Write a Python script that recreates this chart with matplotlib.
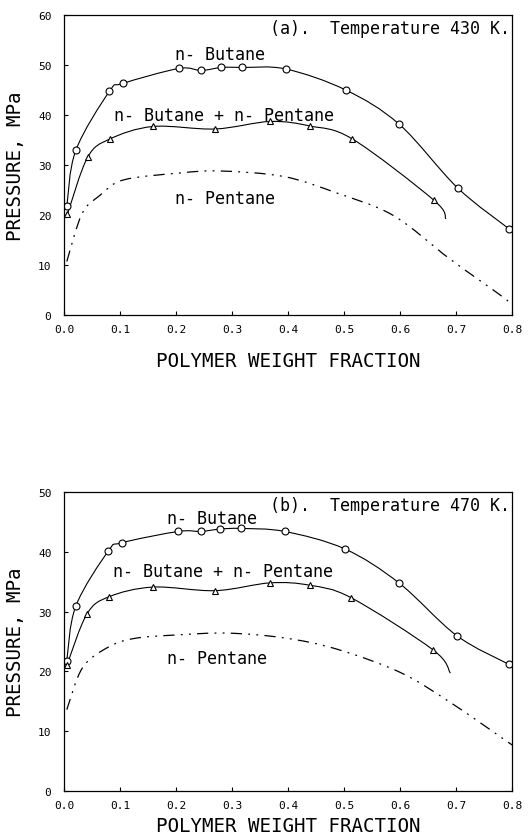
import matplotlib
matplotlib.use("Agg")
import matplotlib.pyplot as plt
from matplotlib.path import Path
from matplotlib.patches import PathPatch

# (a) 430 K
a_but_x = [0.005, 0.021, 0.081, 0.105, 0.205, 0.245, 0.281, 0.318, 0.396, 0.503, 0.599, 0.703, 0.795]
a_but_y = [21.7, 32.9, 44.7, 46.3, 49.3, 48.9, 49.5, 49.5, 49.2, 45.0, 38.1, 25.4, 17.2]
a_mix_x = [0.006, 0.042, 0.082, 0.159, 0.270, 0.368, 0.439, 0.515, 0.660]
a_mix_y = [20.1, 31.5, 35.2, 37.7, 37.2, 38.7, 37.8, 35.2, 23.0]
a_mix_end = (0.682, 19.2)
a_pen_x = [0.005, 0.032, 0.064, 0.106, 0.207, 0.279, 0.392, 0.487, 0.588, 0.689, 0.78, 0.80]
a_pen_y = [10.7, 20.2, 23.9, 27.0, 28.4, 28.8, 27.7, 24.4, 19.9, 11.2, 3.9, 2.0]

# (b) 470 K
b_but_x = [0.005, 0.021, 0.079, 0.103, 0.204, 0.244, 0.279, 0.316, 0.394, 0.501, 0.598, 0.701, 0.794]
b_but_y = [21.8, 30.9, 40.1, 41.5, 43.4, 43.4, 43.8, 43.9, 43.4, 40.5, 34.8, 26.0, 21.2]
b_mix_x = [0.005, 0.041, 0.081, 0.159, 0.270, 0.368, 0.439, 0.513, 0.659]
b_mix_y = [21.0, 29.6, 32.5, 34.1, 33.5, 34.8, 34.4, 32.3, 23.6]
b_mix_end = (0.690, 19.7)
b_pen_x = [0.005, 0.033, 0.078, 0.125, 0.203, 0.292, 0.393, 0.488, 0.601, 0.690, 0.794, 0.80]
b_pen_y = [13.6, 20.6, 24.0, 25.5, 26.1, 26.4, 25.6, 23.7, 19.8, 14.8, 8.1, 7.7]

xticks = [0.0, 0.1, 0.2, 0.3, 0.4, 0.5, 0.6, 0.7, 0.8]

MONO = 'DejaVu Sans Mono'
plt.rcParams['font.family'] = [MONO]

fig = plt.figure(figsize=(5.28, 8.37), dpi=100)
ax1 = fig.add_axes([0.1212, 0.6225, 0.8485, 0.3584])
ax2 = fig.add_axes([0.1212, 0.0538, 0.8485, 0.3572])


def smooth(ax, xs, ys, **kw):
    # catmull-rom curve through the points, drawn as a bezier path
    pts = list(zip(xs, ys))
    verts = [pts[0]]
    codes = [Path.MOVETO]
    n = len(pts)
    for i in range(n - 1):
        p0 = pts[i - 1] if i > 0 else pts[i]
        p1 = pts[i]
        p2 = pts[i + 1]
        p3 = pts[i + 2] if i + 2 < n else pts[i + 1]
        c1 = (p1[0] + (p2[0] - p0[0]) / 6.0, p1[1] + (p2[1] - p0[1]) / 6.0)
        c2 = (p2[0] - (p3[0] - p1[0]) / 6.0, p2[1] - (p3[1] - p1[1]) / 6.0)
        verts += [c1, c2, p2]
        codes += [Path.CURVE4] * 3
    ax.add_patch(PathPatch(Path(verts, codes), fill=False, edgecolor='black', **kw))


def panel(ax, but_x, but_y, mix_x, mix_y, mix_end, pen_x, pen_y, ymax, title, lab):
    smooth(ax, but_x, but_y, lw=0.8)
    smooth(ax, mix_x + [mix_end[0]], mix_y + [mix_end[1]], lw=0.8)
    smooth(ax, pen_x, pen_y, lw=0.9, linestyle=(0, (9, 5, 1.5, 5, 1.5, 5)))
    ax.plot(but_x, but_y, ls='none', marker='o', ms=5,
            mfc='white', mec='black', mew=0.8)
    ax.plot(mix_x, mix_y, ls='none', marker='^', ms=5, mfc='white',
            mec='black', mew=0.8)
    ax.set_xlim(0, 0.8)
    ax.set_ylim(0, ymax)
    ax.set_xticks(xticks)
    ax.set_xticklabels(['%.1f' % v for v in xticks])
    ax.set_yticks(range(0, ymax + 1, 10))
    ax.tick_params(direction='in', length=3, labelsize=8, width=0.8)
    ax.tick_params(axis='x', pad=6.5)
    ax.tick_params(axis='y', pad=9)
    for s in ax.spines.values():
        s.set_linewidth(0.9)
    ax.set_ylabel('PRESSURE, MPa', fontsize=13.8, labelpad=9)
    ax.text(0.797, ymax * 0.955, title, ha='right', va='center', fontsize=12)
    for (tx, ty, t) in lab:
        ax.text(tx, ty, t, ha='left', va='center', fontsize=12)


panel(ax1, a_but_x, a_but_y, a_mix_x, a_mix_y, a_mix_end, a_pen_x, a_pen_y, 60,
      '(a).  Temperature 430 K.',
      [(0.198, 52.2, 'n- Butane'), (0.09, 40.0, 'n- Butane + n- Pentane'),
       (0.198, 23.4, 'n- Pentane')])
ax1.set_xlabel('POLYMER WEIGHT FRACTION', fontsize=13.8, labelpad=12)

panel(ax2, b_but_x, b_but_y, b_mix_x, b_mix_y, b_mix_end, b_pen_x, b_pen_y, 50,
      '(b).  Temperature 470 K.',
      [(0.184, 45.6, 'n- Butane'), (0.088, 36.8, 'n- Butane + n- Pentane'),
       (0.184, 22.2, 'n- Pentane')])
ax2.set_xlabel('POLYMER WEIGHT FRACTION', fontsize=13.8, labelpad=4)

fig.savefig('out.png', dpi=100)
